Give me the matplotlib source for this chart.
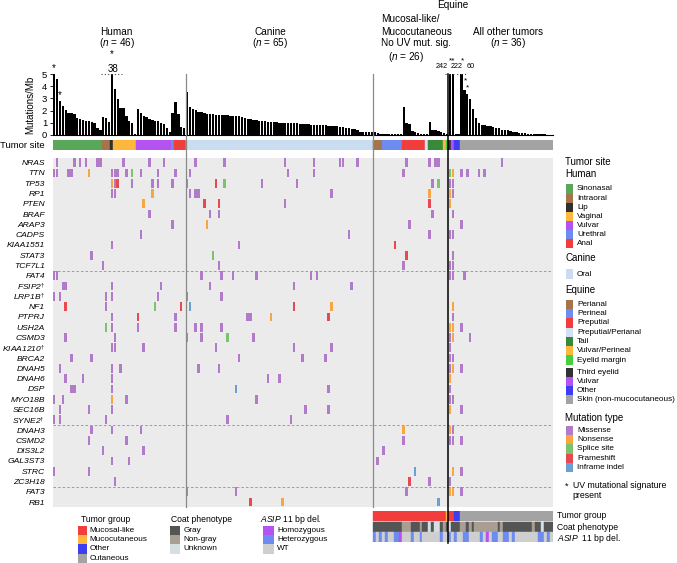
import matplotlib
matplotlib.use('Agg')
import matplotlib.pyplot as plt
from matplotlib.patches import Rectangle
from matplotlib.lines import Line2D
import matplotlib.transforms as mtrans
import numpy as np

plt.rcParams['font.family'] = ['Liberation Sans', 'DejaVu Sans']
plt.rcParams['mathtext.fontset'] = 'custom'
plt.rcParams['mathtext.rm'] = 'Liberation Sans'
plt.rcParams['mathtext.it'] = 'Liberation Sans:italic'
plt.rcParams['mathtext.bf'] = 'Liberation Sans:bold'

# ---------------- data ----------------
group_sizes = [46, 65, 26, 36]

human_sites = ['Sinonasal', 'Intraoral', 'Lip', 'Vaginal', 'Vulvar', 'Urethral', 'Anal']
human_site_n = [17, 3, 1, 8, 12, 1, 4]
canine_sites = ['Oral']
canine_site_n = [65]
equine_sites = ['Perianal', 'Perineal', 'Preputial', 'Preputial/Perianal', 'Tail',
                'Vulvar/Perineal', 'Eyelid margin', 'Third eyelid', 'Vulvar', 'Other',
                'Skin (non-mucocutaneous)']
equine_site_n = [3, 7, 8, 1, 5, 1, 1, 1, 1, 2, 32]

human_tmb = [5.0, 4.56, 2.79, 2.38, 2.05, 1.83, 1.78, 1.7, 1.37, 1.35, 1.23, 1.17, 1.15, 1.04, 0.96, 0.6, 0.4,
             1.5, 1.37, 1.04,
             38,
             3.8, 2.95, 2.24, 2.19, 1.58, 1.15, 0.96, 0.08,
             2.1, 1.83, 1.56, 1.45, 1.34, 1.23, 1.17, 1.12, 1.0, 0.9, 0.55, 0.27,
             1.83,
             2.68, 1.69, 0.68, 0.55]
canine_tmb = [3.55, 2.32, 2.13, 2.05, 1.9, 1.85, 1.8, 1.76, 1.73, 1.7,
              1.68, 1.66, 1.64, 1.62, 1.6, 1.58, 1.56, 1.55, 1.53, 1.5,
              1.38, 1.3, 1.28, 1.25, 1.22, 1.18, 1.15, 1.12, 1.1, 1.08,
              1.06, 1.04, 1.02, 1.0, 0.99, 0.98, 0.97, 0.96, 0.95, 0.94,
              0.92, 0.9, 0.88, 0.86, 0.84, 0.82, 0.8, 0.79, 0.78, 0.77,
              0.76, 0.75, 0.72, 0.68, 0.64, 0.6, 0.56, 0.52, 0.48, 0.45,
              0.27, 0.27, 0.26, 0.26, 0.25]
equine_muc_tmb = [0.27, 0.15, 0.12,
                  0.12, 0.12, 0.1, 0.08, 0.06, 0.05, 0.05,
                  2.32, 0.95, 0.9, 0.3, 0.28, 0.15, 0.1, 0.05,
                  0.05,
                  1.04, 0.41, 0.38, 0.35, 0.25,
                  0.15, 0.1]
equine_oth_tmb = [242, 222, 0.1, 0.05, 60,
                  3.7, 3.35, 2.95, 2.1, 1.37, 0.96, 0.8, 0.78, 0.77, 0.75,
                  0.65, 0.6, 0.55, 0.45, 0.42, 0.38, 0.3, 0.28, 0.25, 0.2,
                  0.18, 0.15, 0.12, 0.12, 0.1, 0.08, 0.07, 0.06, 0.05, 0.04, 0.03]

genes = ['NRAS', 'TTN', 'TP53', 'RP1', 'PTEN', 'BRAF', 'ARAP3', 'CADPS', 'KIAA1551', 'STAT3', 'TCF7L1',
         'FAT4', 'FSIP2', 'LRP1B', 'NF1', 'PTPRJ', 'USH2A', 'CSMD3', 'KIAA1210', 'BRCA2', 'DNAH5',
         'DNAH6', 'DSP', 'MYO18B', 'SEC16B', 'SYNE2',
         'DNAH3', 'CSMD2', 'DIS3L2', 'GAL3ST3', 'STRC', 'ZC3H18',
         'FAT3', 'RB1']
dagger_genes = ['FSIP2', 'LRP1B', 'KIAA1210', 'SYNE2']

# mutation type -> sample indices, per gene
mutations = {
    'NRAS': {'M': [1, 7, 9, 11, 15, 16, 24, 33, 38, 49, 59, 80, 90, 99, 100, 105, 122, 130, 132, 133, 155]},
    'TTN': {'M': [0, 1, 5, 6, 20, 21, 22, 25, 30, 36, 42, 47, 81, 90, 121, 141, 143, 147, 149],
            'N': [12, 138], 'S': [27, 137]},
    'TP53': {'N': [20], 'M': [21, 27, 34, 36, 41, 46, 72, 84, 131, 137, 138], 'F': [22, 56], 'S': [59, 133]},
    'RP1': {'M': [20, 21, 47, 49, 50, 96, 138], 'N': [34, 130, 137]},
    'PTEN': {'N': [31, 137], 'F': [52, 57, 130], 'M': [80]},
    'BRAF': {'M': [33, 54, 57, 131, 138]},
    'ARAP3': {'M': [41, 123, 141], 'N': [53]},
    'CADPS': {'M': [30, 102, 130, 137, 138]},
    'KIAA1551': {'M': [20, 64], 'F': [118]},
    'STAT3': {'M': [13, 138], 'S': [55], 'F': [122]},
    'TCF7L1': {'M': [17, 57, 121, 137, 138]},
    'FAT4': {'M': [0, 1, 51, 58, 62, 70, 89, 91, 137, 138, 142]},
    'FSIP2': {'M': [3, 4, 20, 37, 54, 83, 103]},
    'LRP1B': {'M': [0, 2, 18, 20, 36, 46, 58]},
    'NF1': {'F': [4, 44, 83], 'M': [18], 'S': [35], 'I': [47], 'N': [96, 138]},
    'PTPRJ': {'M': [20, 42, 67, 68, 138], 'F': [29, 95], 'N': [75]},
    'USH2A': {'S': [18], 'M': [20, 29, 42, 49, 51, 58, 141], 'N': [137, 138]},
    'CSMD3': {'M': [4, 21, 46, 51, 69, 137, 144], 'S': [60], 'N': [138]},
    'KIAA1210': {'M': [20, 21, 31, 56, 83, 96, 137]},
    'BRCA2': {'M': [6, 13, 64, 86, 94, 137, 138]},
    'DNAH5': {'M': [2, 20, 23, 50, 57, 137, 141], 'N': [138]},
    'DNAH6': {'M': [4, 10, 20, 74, 78], 'N': [137]},
    'DSP': {'M': [6, 7, 20, 95, 137], 'I': [63]},
    'MYO18B': {'M': [0, 3, 25, 70, 137, 138], 'N': [20]},
    'SEC16B': {'M': [2, 12, 20, 87, 95, 141], 'N': [137]},
    'SYNE2': {'M': [0, 2, 18, 60, 82]},
    'DNAH3': {'M': [13, 20, 30, 138], 'N': [121, 137]},
    'CSMD2': {'M': [12, 25, 121, 137, 138, 141]},
    'DIS3L2': {'M': [17, 31, 114]},
    'GAL3ST3': {'M': [20, 26, 112]},
    'STRC': {'M': [0, 12, 141], 'I': [125], 'N': [138]},
    'ZC3H18': {'M': [21, 130, 137], 'F': [123]},
    'FAT3': {'M': [46, 63, 122, 141], 'N': [137, 138]},
    'RB1': {'F': [68], 'N': [79], 'I': [133]},
}

# equine annotation tracks (samples 111..172)
tumor_group_runs = [('Mucosal-like', 25), ('Mucocutaneous', 1), ('Mucosal-like', 2), ('Other', 2), ('Cutaneous', 32)]
coat_runs = [('G', 10), ('N', 3), ('G', 3), ('N', 1), ('G', 2), ('U', 1), ('G', 1), ('U', 2), ('G', 1), ('N', 1), ('G', 1),
             ('U', 1), ('G', 3), ('N', 2), ('G', 1), ('N', 1), ('G', 1), ('N', 8), ('G', 1), ('N', 1), ('G', 10),
             ('N', 1), ('G', 2), ('U', 1), ('G', 3)]
asip_het = [111, 113, 115, 118, 119, 124, 127, 134, 137, 139, 142, 143, 148, 152, 153, 156, 157, 159, 168, 169, 171]
asip_hom = [120, 150]

# ---------------- styles ----------------
site_colors = {'Sinonasal': '#59A85A', 'Intraoral': '#A5744B', 'Lip': '#2F2F2F', 'Vaginal': '#FDB83C',
               'Vulvar': '#B452F2', 'Urethral': '#6E8BEF', 'Anal': '#F23D3D', 'Oral': '#C9DCF0',
               'Perianal': '#A5744B', 'Perineal': '#6E8BEF', 'Preputial': '#F23D3D',
               'Preputial/Perianal': '#D3E1F5', 'Tail': '#378A3A', 'Vulvar/Perineal': '#FDB83C',
               'Eyelid margin': '#45D13F', 'Third eyelid': '#333333', 'Other': '#3D3DF2',
               'Skin (non-mucocutaneous)': '#A3A3A3'}
mut_colors = {'M': '#B27BC9', 'N': '#F9A541', 'S': '#7DC36E', 'F': '#E8484F', 'I': '#6AA0D2'}
mut_names = [('M', 'Missense'), ('N', 'Nonsense'), ('S', 'Splice site'), ('F', 'Frameshift'), ('I', 'Inframe indel')]
tg_colors = {'Mucosal-like': '#F23D3D', 'Mucocutaneous': '#FDB83C', 'Other': '#3D3DF2', 'Cutaneous': '#A3A3A3'}
coat_colors = {'G': '#555555', 'N': '#A89E92', 'U': '#D5DEE0'}
coat_names = [('G', 'Gray'), ('N', 'Non-gray'), ('U', 'Unknown')]
asip_colors = {'Hom': '#B452F2', 'Het': '#6E8BEF', 'WT': '#CFCFCF'}

W, H = 677, 563
fig = plt.figure(figsize=(W / 100, H / 100), dpi=100)

X0, X1 = 52.7, 552.5


def fax(y0, y1, x0=X0, x1=X1):
    return fig.add_axes([x0 / W, 1 - y1 / H, (x1 - x0) / W, (y1 - y0) / H])


tmb = np.array(human_tmb + canine_tmb + equine_muc_tmb + equine_oth_tmb, dtype=float)
N = len(tmb)
xs = np.arange(N) + 0.5
bounds = np.cumsum(group_sizes)

# ---------------- bar chart ----------------
axb = fax(74, 135)
axb.bar(xs, tmb, width=0.82, color='black', linewidth=0)
axb.set_xlim(0, N)
axb.set_ylim(0, 5)
axb.set_yticks([0, 1, 2, 3, 4, 5])
axb.tick_params(axis='y', labelsize=6.8, length=2.5, width=0.6, pad=1.5)
axb.set_xticks([])
for s in ['top', 'right']:
    axb.spines[s].set_visible(False)
axb.spines['left'].set_linewidth(0.6)
axb.spines['bottom'].set_linewidth(0.8)
axb.patch.set_alpha(0)
fig.text(30 / W, 1 - 104.5 / H, 'Mutations/Mb', rotation=90, ha='center', va='center', fontsize=7)

ann = dict(ha='center', va='center', clip_on=False)
axb.text(0.45, 5.45, '*', fontsize=7, **ann)
axb.text(2.6, 3.3, '*', fontsize=7, **ann)
axb.text(20.6, 6.6, '*', fontsize=7, **ann)
axb.text(20.8, 5.45, '38', fontsize=7, **ann)
axb.plot([16.7, 24.0], [5.03, 5.03], ls=(0, (1, 2)), color='#444444', lw=0.8, clip_on=False)
axb.text(134.5, 5.6, '242', fontsize=5.2, **ann)
axb.text(139.7, 5.6, '222', fontsize=5.2, **ann)
axb.text(144.6, 5.6, '60', fontsize=5.2, **ann)
axb.text(138.1, 6.05, '**', fontsize=6, **ann)
axb.text(141.8, 6.05, '*', fontsize=6, **ann)
axb.text(142.8, 4.45, '*', fontsize=6, **ann)
axb.text(143.7, 3.9, '*', fontsize=6, **ann)
axb.plot([135.8, 143.2], [5.03, 5.03], ls=(0, (1, 2.5)), color='#444444', lw=0.8, clip_on=False)

# ---------------- tumor site ----------------
axs = fax(140, 150)
site_seq = []
for names, counts in [(human_sites, human_site_n), (canine_sites, canine_site_n), (equine_sites, equine_site_n)]:
    for nm, c in zip(names, counts):
        site_seq += [nm] * c
sc = [site_colors[n] for n in site_seq]
axs.bar(xs, 1, width=1.0, color=sc, edgecolor=sc, linewidth=0.3)
axs.set_xlim(0, N)
axs.set_ylim(0, 1)
axs.axis('off')
fig.text(45 / W, 1 - 145 / H, 'Tumor site', ha='right', va='center', fontsize=6.8)

# ---------------- oncoprint ----------------
axo = fax(157.5, 507.2)
axo.set_facecolor('#EBEBEB')
mx, mb, mc = [], [], []
for gi, g in enumerate(genes):
    for t, samples in mutations.get(g, {}).items():
        for s in samples:
            mx.append(s + 0.5)
            mb.append(gi + 0.08)
            mc.append(mut_colors[t])
axo.bar(mx, 0.84, bottom=mb, width=0.85, color=mc, linewidth=0)
axo.set_xlim(0, N)
axo.set_ylim(len(genes), 0)
axo.set_xticks([])
axo.set_yticks(np.arange(len(genes)) + 0.5)
axo.set_yticklabels([g + (r'$^{\dagger}$' if g in dagger_genes else '') for g in genes],
                    fontsize=6.1, fontstyle='italic')
axo.tick_params(axis='y', length=0, pad=5.5)
for s in axo.spines.values():
    s.set_visible(False)
for yy in [11, 26, 32]:
    axo.axhline(yy, ls=(0, (3, 2.5)), color='#8F8F8F', lw=0.6)

# ---------------- equine bottom tracks ----------------
axt = fax(510.7, 542.3)
eq0 = bounds[1]
tg_seq = []
for nm, c in tumor_group_runs:
    tg_seq += [nm] * c
coat_seq = []
for nm, c in coat_runs:
    coat_seq += [nm] * c
ex = np.arange(eq0, N) + 0.5
tcol = [tg_colors[n] for n in tg_seq]
ccol = [coat_colors[n] for n in coat_seq]
acol = [asip_colors['Hom'] if s in asip_hom else asip_colors['Het'] if s in asip_het else asip_colors['WT']
        for s in range(eq0, N)]
axt.bar(ex, 0.95, bottom=0.0, width=1.0, color=tcol, edgecolor=tcol, linewidth=0.3)
axt.bar(ex, 0.95, bottom=1.05, width=1.0, color=ccol, edgecolor=ccol, linewidth=0.3)
axt.bar(ex, 0.95, bottom=2.05, width=1.0, color=acol, edgecolor=acol, linewidth=0.3)
axt.set_xlim(0, N)
axt.set_ylim(3, 0)
axt.axis('off')

# ---------------- separators ----------------
tr = mtrans.blended_transform_factory(axo.transData, fig.transFigure)
for b, col, lw, ybot in [(bounds[0], '#8A8A8A', 0.9, 507.2), (bounds[1], '#8A8A8A', 0.9, 507.2),
                         (bounds[1] + group_sizes[2], 'black', 1.1, 543)]:
    fig.add_artist(Line2D([b, b], [1 - 73.5 / H, 1 - ybot / H], transform=tr, color=col, lw=lw, zorder=5))

# ---------------- overlay for titles / legends ----------------
ov = fig.add_axes([0, 0, 1, 1], zorder=10)
ov.set_xlim(0, W)
ov.set_ylim(H, 0)
ov.axis('off')
ov.patch.set_alpha(0)

tfs = 7.2
ov.text(116.7, 31.7, 'Human', ha='center', va='center', fontsize=tfs)
ov.text(116.7, 43.5, r'($\it{n}$ = 46)', ha='center', va='center', fontsize=tfs)
ov.text(270, 31.7, 'Canine', ha='center', va='center', fontsize=tfs)
ov.text(270, 43.5, r'($\it{n}$ = 65)', ha='center', va='center', fontsize=tfs)
ov.text(452.3, 5.0, 'Equine', ha='center', va='center', fontsize=tfs)
ov.text(380.7, 19.3, 'Mucosal-like/', ha='left', va='center', fontsize=tfs)
ov.text(380.7, 31.7, 'Mucocutaneous', ha='left', va='center', fontsize=tfs)
ov.text(380.7, 43.5, 'No UV mut. sig.', ha='left', va='center', fontsize=tfs)
ov.text(405.7, 57.3, r'($\it{n}$ = 26)', ha='center', va='center', fontsize=tfs)
ov.text(507.7, 31.7, 'All other tumors', ha='center', va='center', fontsize=tfs)
ov.text(507.7, 43.5, r'($\it{n}$ = 36)', ha='center', va='center', fontsize=tfs)

lfs = 5.9
hfs = 7.0


def legend_items(names, colors, x, y0, step, px0, px1, tx):
    for k, (nm, c) in enumerate(zip(names, colors)):
        yc = y0 + k * step
        ov.add_patch(Rectangle((px0, yc - step / 2), px1 - px0, step, color=c, lw=0))
        ov.text(tx, yc, nm, ha='left', va='center', fontsize=lfs)


ov.text(565, 161.7, 'Tumor site', ha='left', va='center', fontsize=hfs)
ov.text(565, 174.2, 'Human', ha='left', va='center', fontsize=hfs)
legend_items(human_sites, [site_colors[n] for n in human_sites], 565, 189, 9.05, 566, 573, 577)
ov.text(565, 258.3, 'Canine', ha='left', va='center', fontsize=hfs)
legend_items(canine_sites, [site_colors[n] for n in canine_sites], 565, 274, 9.05, 566, 573, 577)
ov.text(565, 290, 'Equine', ha='left', va='center', fontsize=hfs)
legend_items(equine_sites[:7], [site_colors[n] for n in equine_sites[:7]], 565, 304.3, 9.3, 566, 573, 577)
legend_items(equine_sites[7:], [site_colors[n] for n in equine_sites[7:]], 565, 372.6, 9.0, 566, 573, 577)
ov.text(565, 418.3, 'Mutation type', ha='left', va='center', fontsize=hfs)
legend_items([m[1] for m in mut_names], [mut_colors[m[0]] for m in mut_names], 565, 430.7, 9.15, 566, 573, 577)
ov.text(566.7, 486.5, '*', ha='center', va='center', fontsize=6.5)
ov.text(572.7, 485.7, 'UV mutational signature', ha='left', va='center', fontsize=6.3)
ov.text(572.7, 495.7, 'present', ha='left', va='center', fontsize=6.3)

bfs = 6.2
ov.text(557, 516, 'Tumor group', ha='left', va='center', fontsize=bfs)
ov.text(557, 527.3, 'Coat phenotype', ha='left', va='center', fontsize=bfs)
ov.text(557, 538.3, r'$\it{ASIP}$  11 bp del.', ha='left', va='center', fontsize=bfs)

ov.text(106, 519, 'Tumor group', ha='center', va='center', fontsize=bfs)
tg_names = ['Mucosal-like', 'Mucocutaneous', 'Other', 'Cutaneous']
legend_items(tg_names, [tg_colors[n] for n in tg_names], 0, 530.5, 9.2, 77.7, 87.3, 89.5)
ov.text(202, 519, 'Coat phenotype', ha='center', va='center', fontsize=bfs)
legend_items([c[1] for c in coat_names], [coat_colors[c[0]] for c in coat_names], 0, 530.5, 9.2, 170, 180, 183.5)
ov.text(260, 519, r'$\it{ASIP}$ 11 bp del.', ha='left', va='center', fontsize=bfs)
legend_items(['Homozygous', 'Heterozygous', 'WT'], [asip_colors['Hom'], asip_colors['Het'], asip_colors['WT']],
             0, 530.5, 9.2, 263.3, 274, 277)

fig.savefig('out.png', dpi=100)
